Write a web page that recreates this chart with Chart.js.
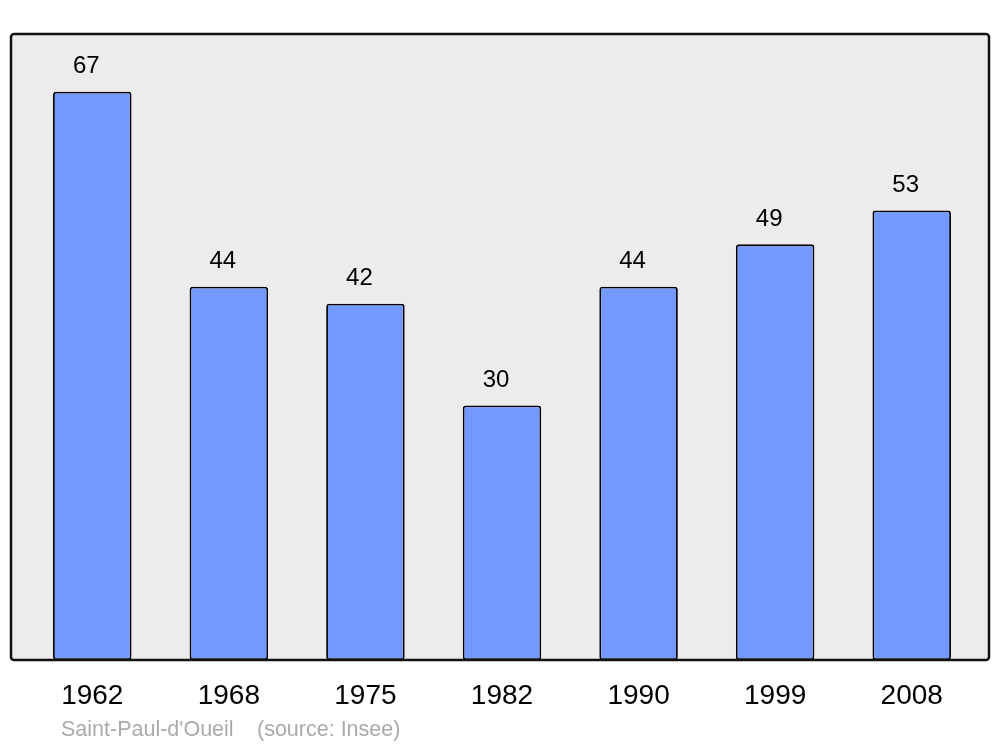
<!DOCTYPE html>
<html>
<head>
    <title>Population</title>
    <style>
        body {
            margin: 0;
            background-color: #ffffff;
        }
        #wrap {
            width: 1000px;
            height: 747px;
        }
    </style>
    <script src="https://cdn.jsdelivr.net/npm/chart.js"></script>
</head>
<body>
    <div id="wrap"><canvas id="popChart" width="1000" height="747"></canvas></div>

    <script>
        var annees = ['1962', '1968', '1975', '1982', '1990', '1999', '2008'];
        var habitants = [67, 44, 42, 30, 44, 49, 53];
        var commune = "Saint-Paul-d'Oueil";
        var source = '(source: Insee)';

        // fond gris arrondi derriere les barres
        var fondPlugin = {
            id: 'fond',
            beforeDatasetsDraw: function(chart) {
                var ctx = chart.ctx;
                var a = chart.chartArea;
                ctx.save();
                ctx.beginPath();
                ctx.roundRect(11, a.top, 978, a.bottom - a.top, 3);
                ctx.fillStyle = '#ececec';
                ctx.fill();
                ctx.restore();
            },
            afterDatasetsDraw: function(chart) {
                var ctx = chart.ctx;
                var a = chart.chartArea;
                ctx.save();
                ctx.beginPath();
                ctx.roundRect(11, a.top, 978, a.bottom - a.top, 3);
                ctx.lineWidth = 2.5;
                ctx.strokeStyle = '#111111';
                ctx.stroke();

                // valeurs au dessus des barres
                var meta = chart.getDatasetMeta(0);
                ctx.fillStyle = '#000000';
                ctx.font = '24px "Liberation Sans", Arial, sans-serif';
                ctx.textAlign = 'center';
                ctx.textBaseline = 'middle';
                meta.data.forEach(function(bar, i) {
                    ctx.fillText(habitants[i], bar.x - 6, bar.y - 25);
                });

                // legende en bas
                ctx.fillStyle = '#aaaaaa';
                ctx.font = '21.5px "Liberation Sans", Arial, sans-serif';
                ctx.textAlign = 'left';
                ctx.fillText(commune, 61, 730);
                ctx.fillText(source, 257, 730);
                ctx.restore();
            }
        };

        new Chart(document.getElementById('popChart'), {
            type: 'bar',
            data: {
                labels: annees,
                datasets: [{
                    data: habitants,
                    backgroundColor: '#7399ff',
                    borderColor: '#000000',
                    borderWidth: 1.8,
                    borderRadius: 3,
                    borderSkipped: false,
                    barPercentage: 0.575,
                    categoryPercentage: 1.0
                }]
            },
            options: {
                responsive: false,
                animation: false,
                layout: {
                    padding: { left: 24, right: 20, top: 34, bottom: 0 }
                },
                plugins: {
                    legend: { display: false },
                    tooltip: { enabled: false }
                },
                scales: {
                    x: {
                        grid: { display: false, drawTicks: false },
                        border: { display: false },
                        ticks: {
                            color: '#000000',
                            font: { size: 28, family: '"Liberation Sans", Arial, sans-serif' },
                            padding: 19,
                            maxRotation: 0
                        },
                        afterFit: function(scale) {
                            scale.height = 87;
                        }
                    },
                    y: {
                        display: false,
                        min: 0,
                        max: 73.8
                    }
                }
            },
            plugins: [fondPlugin]
        });
    </script>
</body>
</html>
